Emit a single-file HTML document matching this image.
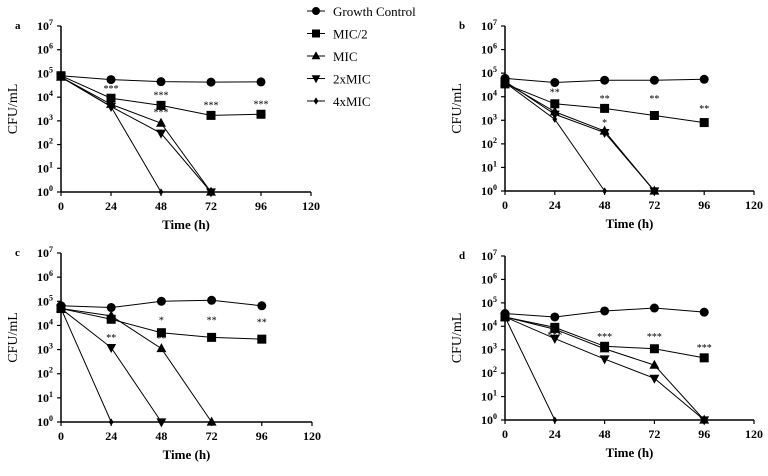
<!DOCTYPE html>
<html><head><meta charset="utf-8"><style>
body{margin:0;background:#fff}
svg{display:block;font-family:"Liberation Serif",serif}
</style></head><body>
<svg id="chart" width="768" height="476"></svg>
<script>
const timesGC=[0,24,48,72,96];
const seriesNames=["Growth Control","MIC/2","MIC","2xMIC","4xMIC"];
const markers=["circle","square","tri","tridown","diamond"];
// panel a
const aGC=[8e4,5.5e4,4.5e4,4.3e4,4.4e4];
const aHalf=[8e4,9e3,4.5e3,1.7e3,1.9e3];
const aMIC=[7e4,5e3,8e2,1];
const a2x=[7e4,4e3,3e2,1];
const a4x=[7e4,4e3,1];
const aStars=[[24,"***",2.2e4],[48,"***",1.2e4],[48,"***",2.2e3],[72,"***",4.5e3],[96,"***",4.8e3]];
// panel b
const bGC=[6e4,4e4,5e4,5e4,5.5e4];
const bHalf=[3.5e4,5e3,3.2e3,1.6e3,8e2];
const bMIC=[4e4,2.3e3,3.5e2,1];
const b2x=[4.5e4,1.8e3,3e2,1];
const b4x=[4e4,1.1e3,1];
const bStars=[[24,"**",1.5e4],[48,"**",8e3],[48,"*",7.5e2],[72,"**",8e3],[96,"**",3e3]];
// panel c
const cGC=[6.5e4,5.5e4,1e5,1.1e5,6.5e4];
const cHalf=[5e4,1.8e4,5e3,3.2e3,2.7e3];
const cMIC=[5e4,2.5e4,1.1e3,1];
const c2x=[5e4,1.2e3,1];
const c4x=[5e4,1];
const cStars=[[48,"*",1.6e4],[72,"**",1.6e4],[96,"**",1.3e4],[24,"**",3e3],[48,"**",2.8e3]];
// panel d
const dGC=[3.5e4,2.5e4,4.5e4,6e4,4e4];
const dHalf=[2.5e4,9e3,1.4e3,1.1e3,4.5e2];
const dMIC=[2.5e4,7.5e3,1.1e3,2.2e2,1];
const d2x=[2.5e4,3e3,4e2,6e1,1];
const d4x=[2.5e4,1];
const dStars=[[24,"***",4e3],[48,"***",3.5e3],[72,"***",3.5e3],[96,"***",1.2e3]];

const xTicks=[0,24,48,72,96,120];
const yTicks=[0,1,2,3,4,5,6,7];
const NS="http://www.w3.org/2000/svg";
const svg=document.getElementById('chart');
function mk(tag,attrs,parent){const e=document.createElementNS(NS,tag);for(const k in attrs)e.setAttribute(k,attrs[k]);(parent||svg).appendChild(e);return e;}
function marker(g,type,x,y,s){
  let e;
  if(type==="circle")e=mk('circle',{cx:x,cy:y,r:s},g);
  else if(type==="square")e=mk('rect',{x:x-s,y:y-s,width:2*s,height:2*s},g);
  else if(type==="tri")e=mk('polygon',{points:`${x},${y-s*1.2} ${x-s*1.1},${y+s*0.8} ${x+s*1.1},${y+s*0.8}`},g);
  else if(type==="tridown")e=mk('polygon',{points:`${x},${y+s*1.2} ${x-s*1.1},${y-s*0.8} ${x+s*1.1},${y-s*0.8}`},g);
  else e=mk('polygon',{points:`${x},${y-s*0.9} ${x+s*0.6},${y} ${x},${y+s*0.9} ${x-s*0.6},${y}`},g);
  e.setAttribute('fill','#000');
  return e;
}
function panel(id,x0,x1,yTop,yBot,series,stars){
  const g=mk('g',{});
  
  
  const X=t=>x0+(x1-x0)*t/120;
  const Y=v=>yBot-(yBot-yTop)*Math.log10(Math.max(v,1))/7;
  mk('line',{x1:x0,y1:yTop,x2:x0,y2:yBot,stroke:'#000','stroke-width':1.5},g);
  mk('line',{x1:x0,y1:yBot,x2:x1,y2:yBot,stroke:'#000','stroke-width':1.5},g);
  yTicks.forEach(p=>{
    const y=Y(Math.pow(10,p));
    mk('line',{x1:x0-4,y1:y,x2:x0,y2:y,stroke:'#000','stroke-width':1.2},g);
    const t=mk('text',{x:x0-8,y:y+4,'text-anchor':'end','font-size':12,'font-weight':'bold'},g);
    t.textContent='10';
    const s=mk('tspan',{dy:-5,'font-size':8},t);s.textContent=p;
  });
  xTicks.forEach(v=>{
    const x=X(v);
    mk('line',{x1:x,y1:yBot,x2:x,y2:yBot+4,stroke:'#000','stroke-width':1.2},g);
    const t=mk('text',{x:x,y:yBot+18,'text-anchor':'middle','font-size':12,'font-weight':'bold'},g);
    t.textContent=v;
  });
  const xt=mk('text',{x:(x0+x1)/2,y:yBot+37,'text-anchor':'middle','font-size':13,'font-weight':'bold'},g);
  xt.textContent='Time (h)';
  
  
  const cy=(yTop+yBot)/2;
  const yt=mk('text',{x:x0-44,y:cy,'text-anchor':'middle','font-size':14,transform:`rotate(-90 ${x0-44} ${cy})`},g);
  yt.textContent='CFU/mL';
  
  
  const lb=mk('text',{x:x0-46,y:yTop+3,'font-size':11,'font-weight':'bold'},g);
  lb.textContent=id;
  
  
  series.forEach((vals,i)=>{
    const pts=vals.map((v,j)=>X(timesGC[j])+','+Y(v)).join(' ');
    const pl=mk('polyline',{points:pts,fill:'none',stroke:'#000','stroke-width':1},g);
    
    
    vals.forEach((v,j)=>{
      const m=marker(g,markers[i],X(timesGC[j]),Y(v),i===4?4:4.5);
      
      
    });
  });
  stars.forEach(s=>{
    const t=mk('text',{x:X(s[0]),y:Y(s[2])+3,'text-anchor':'middle','font-size':10},g);
    t.textContent=s[1];
    
    
  });
}
panel('a',61,311,26,192,[aGC,aHalf,aMIC,a2x,a4x],aStars);
panel('b',505,754,26,191,[bGC,bHalf,bMIC,b2x,b4x],bStars);
panel('c',61,312,253,422,[cGC,cHalf,cMIC,c2x,c4x],cStars);
panel('d',505,754,256,420,[dGC,dHalf,dMIC,d2x,d4x],dStars);
// legend
const lg=mk('g',{});


seriesNames.forEach((n,i)=>{
  const y=11+i*22.5;
  mk('line',{x1:307,y1:y,x2:325,y2:y,stroke:'#000','stroke-width':1},lg);
  const m=marker(lg,markers[i],316,y,4);
  
  
  const t=mk('text',{x:333,y:y+5,'font-size':13},lg);
  t.textContent=n;
  
  
});
</script>
</body></html>
